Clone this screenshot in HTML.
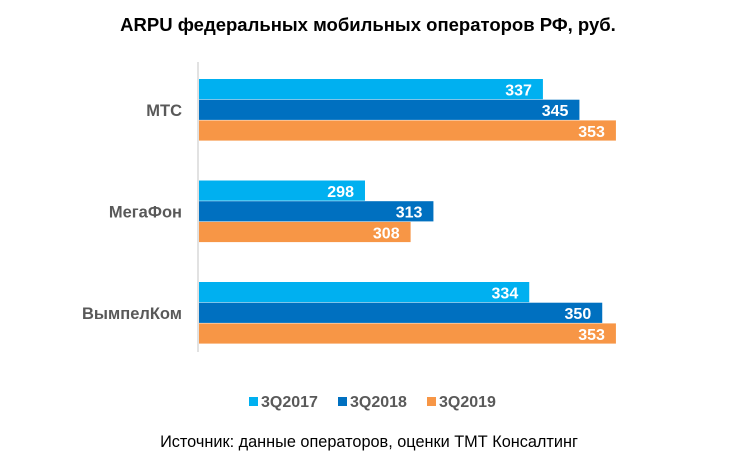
<!DOCTYPE html>
<html><head><meta charset="utf-8"><style>
body{margin:0;background:#fff;font-family:"Liberation Sans",sans-serif;}
</style></head><body>
<svg width="735" height="470" xmlns="http://www.w3.org/2000/svg" font-family="Liberation Sans, sans-serif">
<text x="368" y="31" text-anchor="middle" font-size="18.5" font-weight="bold" fill="#000">ARPU федеральных мобильных операторов РФ, руб.</text>
<line x1="198" y1="62" x2="198" y2="352" stroke="#d9d9d9" stroke-width="1.5"/>
<g id="bars"></g>
<g font-size="16" font-weight="bold" fill="#595959">
<rect x="249" y="397" width="9" height="9" fill="#00B0F0"/>
<text x="261" y="407">3Q2017</text>
<rect x="338" y="397" width="9" height="9" fill="#0070C0"/>
<text x="350" y="407">3Q2018</text>
<rect x="427" y="397" width="9" height="9" fill="#F79646"/>
<text x="439" y="407">3Q2019</text>
</g>
<text x="369" y="447" text-anchor="middle" font-size="16.3" fill="#000">Источник: данные операторов, оценки ТМТ Консалтинг</text>
</svg>
<script>
const categories=["МТС","МегаФон","ВымпелКом"];
const series2017=[337,298,334];
const series2018=[345,313,350];
const series2019=[353,308,353];
const seriesNames=["3Q2017","3Q2018","3Q2019"];
const colors=["#00B0F0","#0070C0","#F79646"];
const allSeries=[series2017,series2018,series2019];
const x0=198, vmin=261.4, k=4.5625;
function xs(v){return x0+(v-vmin)*k;}
function groupTop(i){return 79+i*101.5;}
const g=document.getElementById('bars');
const NS="http://www.w3.org/2000/svg";
const bh=20.7;
categories.forEach((c,i)=>{
  const t=document.createElementNS(NS,'text');
  t.setAttribute('x',182);t.setAttribute('y',groupTop(i)+bh*1.5+6);
  t.setAttribute('text-anchor','end');t.setAttribute('font-size','16.5');t.setAttribute('font-weight','bold');t.setAttribute('fill','#595959');
  t.textContent=c;
  
  
  g.appendChild(t);
  allSeries.forEach((s,j)=>{
    const y=groupTop(i)+j*bh;
    const r=document.createElementNS(NS,'rect');
    r.setAttribute('x',x0+1);r.setAttribute('y',y);r.setAttribute('width',xs(s[i])-x0-1);r.setAttribute('height',bh-0.5);r.setAttribute('fill',colors[j]);
    
    
    g.appendChild(r);
    const l=document.createElementNS(NS,'text');
    l.setAttribute('x',xs(s[i])-11);l.setAttribute('y',y+bh/2+6);l.setAttribute('text-anchor','end');
    l.setAttribute('font-size','16');l.setAttribute('font-weight','bold');l.setAttribute('fill','#fff');
    l.textContent=s[i];
    
    
    g.appendChild(l);
  });
});
</script>
</body></html>
